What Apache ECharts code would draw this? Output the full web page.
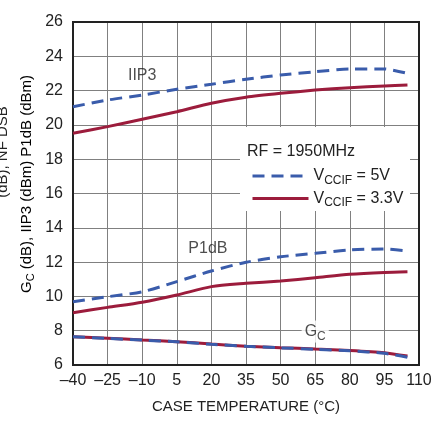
<!DOCTYPE html>
<html>
<head>
<meta charset="utf-8">
<script src="https://cdn.jsdelivr.net/npm/echarts@6/dist/echarts.min.js"></script>
<style>
  html, body { margin: 0; padding: 0; background: #fff; }
  #chart { width: 438px; height: 421px; }
</style>
</head>
<body>
<div id="chart"></div>
<script>
// case temperature sample points (°C)
const temps = [-40, -25, -10, 5, 20, 35, 50, 65, 80, 95, 105]
// x tick labels
const xTicks = ['–40', '–25', '–10', '5', '20', '35', '50', '65', '80', '95', '110']
const xMin = -40 // ticks are counted from here, axis is shifted so min sits on 0

// VCCIF = 5V (dashed blue)
const iip3_5v = [21.06, 21.45, 21.74, 22.08, 22.37, 22.66, 22.91, 23.1, 23.26, 23.26, 23.0]
const p1db_5v = [9.69, 9.98, 10.27, 10.86, 11.48, 11.99, 12.31, 12.51, 12.71, 12.76, 12.65]
const gc_5v = [7.65, 7.55, 7.45, 7.35, 7.21, 7.09, 7.0, 6.92, 6.83, 6.68, 6.45]
// VCCIF = 3.3V (solid red)
const iip3_33v = [19.51, 19.9, 20.33, 20.77, 21.26, 21.61, 21.84, 22.03, 22.17, 22.27, 22.33]
const p1db_33v = [9.05, 9.36, 9.66, 10.08, 10.57, 10.76, 10.9, 11.09, 11.29, 11.4, 11.44]
const gc_33v = [7.65, 7.56, 7.46, 7.36, 7.22, 7.1, 7.01, 6.93, 6.85, 6.72, 6.52]

const BLUE = '#3a5cab'
const RED = '#9c1c3c'
const FONT = 'Liberation Sans'

const chart = echarts.init(document.getElementById('chart'))

// 把温度和数值拼成点
function pts(vals) {
  return temps.map((t, i) => [t - xMin, vals[i]])
}

function line(name, vals, color, dashed) {
  return {
    name: name,
    type: 'line',
    data: pts(vals),
    symbol: 'none',
    smooth: 0.25,
    z: dashed ? 4 : 3,
    lineStyle: { color: color, width: 3, type: dashed ? [12, 7] : 'solid', cap: 'butt' },
    itemStyle: { color: color }
  }
}

// 曲线旁边的文字标注
function note(x, y, text, bg) {
  return {
    name: 'note',
    type: 'scatter',
    data: [[x - xMin, y]],
    symbolSize: 0,
    silent: true,
    z: 5,
    label: {
      show: true,
      position: 'inside',
      formatter: text,
      color: '#222',
      fontFamily: FONT,
      fontSize: 16,
      backgroundColor: bg ? '#fff' : 'transparent',
      padding: bg ? [0, 3] : 0,
      rich: {
        a: { fontFamily: FONT, fontSize: 16, color: '#222' },
        s: { fontFamily: FONT, fontSize: 12, padding: [10, 0, 0, 0], color: '#222' }
      }
    }
  }
}

const richV = {
  v: { fontFamily: FONT, fontSize: 16, color: '#222' },
  s: { fontFamily: FONT, fontSize: 12, color: '#222', padding: [9, 0, 0, 0] }
}
const richY = {
  v: { fontFamily: FONT, fontSize: 15, color: '#222' },
  s: { fontFamily: FONT, fontSize: 11, color: '#222', padding: [8, 0, 0, 0] }
}

const option = {
  animation: false,
  backgroundColor: '#fff',
  textStyle: { fontFamily: FONT },
  grid: {
    left: 73, top: 22, width: 346, height: 343,
    show: true, borderColor: '#222', borderWidth: 2, backgroundColor: 'transparent', z: 3
  },
  xAxis: {
    type: 'value',
    min: 0, max: 150, interval: 15,
    axisLine: { show: false },
    axisTick: { show: false },
    splitLine: { show: true, showMinLine: false, showMaxLine: false, lineStyle: { color: '#808080', width: 1 } },
    axisLabel: {
      color: '#222', fontFamily: FONT, fontSize: 16, margin: 8,
      formatter: v => xTicks[Math.round(v / 15)]
    },
    name: 'CASE TEMPERATURE (°C)',
    nameLocation: 'middle',
    nameGap: 34,
    nameTextStyle: { color: '#222', fontFamily: FONT, fontSize: 15 }
  },
  yAxis: {
    type: 'value',
    min: 6, max: 26, interval: 2,
    axisLine: { show: false },
    axisTick: { show: false },
    splitLine: { show: true, showMinLine: false, showMaxLine: false, lineStyle: { color: '#808080', width: 1 } },
    axisLabel: { color: '#222', fontFamily: FONT, fontSize: 16, margin: 10 }
  },
  legend: {
    orient: 'vertical',
    left: 246,
    top: 163,
    itemWidth: 56,
    itemHeight: 14,
    itemGap: 4,
    data: ['v5', 'v33'],
    selectedMode: false,
    itemStyle: { opacity: 0 },
    lineStyle: { width: 3 },
    formatter: n => n === 'v5' ? '{v|V}{s|CCIF}{v| = 5V}' : '{v|V}{s|CCIF}{v| = 3.3V}',
    textStyle: { rich: richV }
  },
  graphic: [
    // 图例后面的白底
    { type: 'rect', shape: { x: 240, y: 127, width: 170, height: 84 }, style: { fill: '#fff' }, z: 1, silent: true },
    {
      type: 'text', left: 247, top: 144, z: 5,
      style: { text: 'RF = 1950MHz', fontFamily: FONT, fontSize: 16, fill: '#222' }
    },
    {
      type: 'text', x: 27, y: 184, rotation: Math.PI / 2, z: 5,
      style: {
        text: '{v|G}{s|C}{v| (dB), IIP3 (dBm) P1dB (dBm)}',
        align: 'center', verticalAlign: 'middle',
        rich: richY
      }
    },
    {
      type: 'text', x: 3, y: 152, rotation: Math.PI / 2, z: 5,
      style: {
        text: '(dB), NF DSB',
        align: 'center', verticalAlign: 'middle',
        fontFamily: FONT, fontSize: 15, fill: '#222'
      }
    }
  ],
  series: [
    line('v33', iip3_33v, RED, false),
    line('v33', p1db_33v, RED, false),
    line('v33', gc_33v, RED, false),
    line('v5', iip3_5v, BLUE, true),
    line('v5', p1db_5v, BLUE, true),
    line('v5', gc_5v, BLUE, true),
    note(-10, 22.9, 'IIP3', false),
    note(18.5, 12.8, 'P1dB', false),
    note(65, 7.95, '{a|G}{s|C}', true)
  ]
}

chart.setOption(option)
</script>
</body>
</html>
